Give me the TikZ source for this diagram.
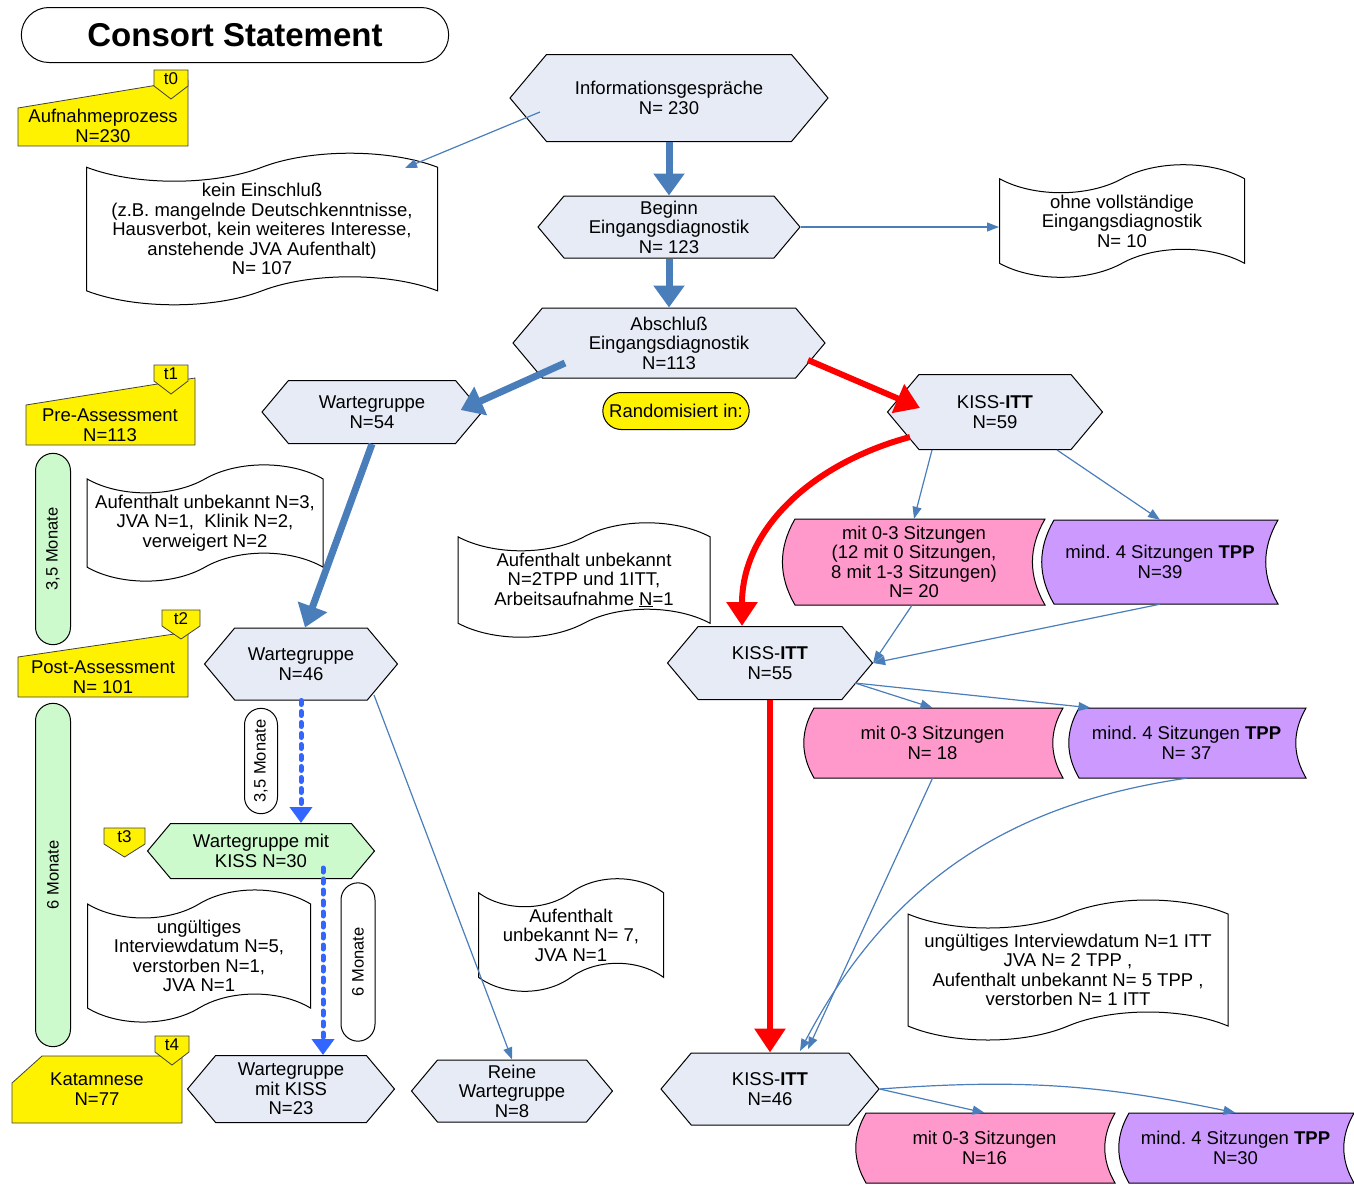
\documentclass[tikz,border=0pt]{standalone}
\usepackage{fontspec}
\setmainfont{Liberation Sans}
\usepackage{xcolor}
\usetikzlibrary{arrows.meta,calc,shapes.symbols,shapes.misc}
\frenchspacing

\definecolor{hexfill}{RGB}{230,235,246}
\definecolor{greenfill}{RGB}{204,250,204}
\definecolor{pinkfill}{RGB}{255,153,204}
\definecolor{lilafill}{RGB}{204,153,255}
\definecolor{arrowblue}{RGB}{74,126,187}
\definecolor{dotblue}{RGB}{51,102,255}

% Zeitpunkt-Marke: name, x, y, Breite, Text
\newcommand\zeitmarke[5]{%
  \draw[fill=yellow, draw=black!75, line width=0.8pt]
    (#2,#3) -- ++(#4,0) -- ++(0,16) -- ++(-#4/2,13) -- ++(-#4/2,-13) -- cycle;
  \node[font=\fontsize{17}{17}\selectfont] (#1) at (#2+#4/2,#3+9) {#5};
}
% Gespeicherte Daten: name, x1, y1, x2, y2, Farbe, Text
\newcommand\speicher[7]{%
  \filldraw[fill=#6, draw=black, line width=1pt]
    (#2+12,#3) -- (#4,#3) to[bend right=30] (#4,#5)
    -- (#2+12,#5) to[bend left=30] (#2+12,#3) -- cycle;
  \node[inner sep=0pt, minimum width={(#4-#2)*1pt}, minimum height={(#5-#3)*1pt}]
    (#1) at ({(#2+#4)/2},{(#3+#5)/2}) {#7};
}

\begin{document}
\begin{tikzpicture}[
    x = 1pt, y = -1pt,
    every node/.style = {font=\fontsize{18.5}{19.5}\selectfont, align=center},
    % Named styles
    hexa/.style      = {signal, signal to=west and east, signal pointer angle=100,
                        draw=black, fill=hexfill, line width=1pt, inner sep=1pt},
    doc/.style       = {tape, tape bend top=in and out, tape bend bottom=in and out,
                        tape bend height=28pt, draw=black, fill=white,
                        line width=1pt, inner sep=2pt},
    pill/.style      = {rounded rectangle, draw=black, line width=1pt, rotate=90,
                        minimum height=35pt, font=\fontsize{16.5}{17}\selectfont},
    gelb/.style      = {fill=yellow, draw=black!75, line width=0.8pt},
    thinarrow/.style = {-{Triangle[length=12pt,width=9pt]}, draw=arrowblue, line width=1.2pt},
    bigarrow/.style  = {-{Triangle[length=22pt,width=30pt]}, draw=arrowblue, line width=7pt},
    redarrow/.style  = {-{Triangle[length=24pt,width=30pt]}, draw=red, line width=6pt},
    dotarrow/.style  = {-{Triangle[length=16pt,width=22pt]}, draw=dotblue, line width=5pt,
                        line cap=round, dash pattern=on 4pt off 7pt},
]
\useasboundingbox (0,0) rectangle (1354,1184);

% ── Titel ─────────────────────────────────────────────────────────────────────
\node[rounded rectangle, draw=black, line width=1pt, minimum width=434pt,
      minimum height=55pt, font=\fontsize{33}{33}\selectfont\bfseries]
    (title) at (235,35) {Consort Statement};

% ── Zeitpunkte (links) ────────────────────────────────────────────────────────
\draw[gelb] (18,108) -- (188,80) -- (188,146) -- (18,146) -- cycle;
\zeitmarke{tnull}{154}{70}{34}{t0}
\node (aufnahme) at (103,126) {Aufnahmeprozess\\N=230};

\draw[gelb] (26,405) -- (195,378) -- (195,445) -- (26,445) -- cycle;
\zeitmarke{teins}{154}{365}{34}{t1}
\node (pre) at (110,425) {Pre-Assessment\\N=113};

\draw[gelb] (18,657) -- (188,632) -- (188,697) -- (18,697) -- cycle;
\zeitmarke{tzwei}{162}{610}{38}{t2}
\node (post) at (103,677) {Post-Assessment\\N= 101};

\zeitmarke{tdrei}{104}{828}{41}{t3}

\draw[gelb] (12,1083) -- (42,1056) -- (182,1056) -- (182,1123) -- (12,1123) -- cycle;
\zeitmarke{tvier}{155}{1036}{34}{t4}
\node (katamnese) at (97,1089) {Katamnese\\N=77};

% Zeitraeume
\node[pill, fill=greenfill, minimum width=198pt] (monA) at (53,549) {3,5 Monate};
\node[pill, fill=greenfill, minimum width=350pt] (monB) at (53,875) {6 Monate};
\node[pill, fill=white, minimum width=112pt, minimum height=33pt] (monC) at (261,761) {3,5 Monate};
\node[pill, fill=white, minimum width=165pt, minimum height=34pt] (monD) at (358,962) {6 Monate};

% ── Aufnahme ──────────────────────────────────────────────────────────────────
\node[hexa, minimum width=318pt, minimum height=87pt] (info) at (669,98)
    {Informationsgespräche\\N= 230};
\node[doc, minimum width=351pt, minimum height=150pt] (kein) at (262,229)
    {kein Einschluß\\(z.B. mangelnde Deutschkenntnisse,\\Hausverbot, kein weiteres Interesse,\\anstehende JVA Aufenthalt)\\N= 107};
\node[hexa, minimum width=262pt, minimum height=62pt] (beginn) at (669,227)
    {Beginn\\Eingangsdiagnostik\\N= 123};
\node[doc, minimum width=245pt, minimum height=104pt] (ohne) at (1122,221)
    {ohne vollständige\\Eingangsdiagnostik\\N= 10};
\node[hexa, minimum width=312pt, minimum height=70pt] (absch) at (669,343)
    {Abschluß\\Eingangsdiagnostik\\N=113};
\node[rounded rectangle, draw=black, fill=yellow, line width=1pt,
      minimum width=153pt, minimum height=37pt] (random) at (676,411) {Randomisiert in:};

% ── Wartegruppe ───────────────────────────────────────────────────────────────
\node[hexa, minimum width=220pt, minimum height=63pt] (warteA) at (372,412) {Wartegruppe\\N=54};
\node[doc, minimum width=236pt, minimum height=100pt] (verlustA) at (205,523)
    {Aufenthalt unbekannt N=3,\\JVA N=1,\ \ Klinik N=2,\\verweigert N=2};
\node[hexa, minimum width=193pt, minimum height=72pt] (warteB) at (301,664) {Wartegruppe\\N=46};
\node[hexa, fill=greenfill, minimum width=227pt, minimum height=55pt] (warteC) at (261,851)
    {Wartegruppe mit\\KISS N=30};
\node[doc, minimum width=223pt, minimum height=120pt] (verlustC) at (199,956)
    {ungültiges\\Interviewdatum N=5,\\verstorben N=1,\\JVA N=1};
\node[doc, minimum width=185pt, minimum height=86pt] (verlustD) at (571,935)
    {Aufenthalt\\unbekannt N= 7,\\JVA N=1};
\node[hexa, minimum width=207pt, minimum height=67pt] (warteD) at (291,1089)
    {Wartegruppe\\mit KISS\\N=23};
\node[hexa, minimum width=201pt, minimum height=62pt] (reine) at (512,1091)
    {Reine\\Wartegruppe\\N=8};

% ── KISS-ITT ──────────────────────────────────────────────────────────────────
\node[hexa, minimum width=215pt, minimum height=75pt] (kissA) at (995,412) {KISS-\textbf{ITT}\\N=59};
\speicher{pinkA}{783}{519}{1045}{605}{pinkfill}
    {mit 0-3 Sitzungen\\(12 mit 0 Sitzungen,\\8 mit 1-3 Sitzungen)\\N= 20}
\speicher{lilaA}{1042}{520}{1278}{604}{lilafill}
    {mind. 4 Sitzungen \textbf{TPP}\\N=39}
\node[doc, minimum width=252pt, minimum height=112pt] (verlustB) at (584,580)
    {Aufenthalt unbekannt\\N=2TPP und 1ITT,\\Arbeitsaufnahme \underline{N}=1};
\node[hexa, minimum width=205pt, minimum height=73pt] (kissB) at (770,663) {KISS-\textbf{ITT}\\N=55};
\speicher{pinkB}{802}{708}{1063}{778}{pinkfill}{mit 0-3 Sitzungen\\N= 18}
\speicher{lilaB}{1067}{708}{1306}{778}{lilafill}{mind. 4 Sitzungen \textbf{TPP}\\N= 37}
\node[doc, minimum width=320pt, minimum height=140pt] (verlustE) at (1068,970)
    {ungültiges Interviewdatum N=1 ITT\\JVA N= 2 TPP ,\\Aufenthalt unbekannt N= 5 TPP ,\\verstorben N= 1 ITT};
\node[hexa, minimum width=218pt, minimum height=72pt] (kissC) at (770,1089) {KISS-\textbf{ITT}\\N=46};
\speicher{pinkC}{854}{1113}{1115}{1183}{pinkfill}{mit 0-3 Sitzungen\\N=16}
\speicher{lilaC}{1117}{1113}{1354}{1183}{lilafill}{mind. 4 Sitzungen \textbf{TPP}\\N=30}

% ── Pfeile ────────────────────────────────────────────────────────────────────
\draw[thinarrow] ($(info)+(-129,14)$) -- ($(kein)+(143,-61)$);
\draw[bigarrow]  (info.south) -- (beginn.north);
\draw[thinarrow] (beginn.east) -- (beginn.east -| ohne.west);
\draw[bigarrow]  (beginn.south) -- (absch.north);
\draw[bigarrow]  ($(absch)+(-104,20)$) -- ($(warteA.east)+(-22,-2)$);
\draw[redarrow]  ($(absch)+(139,17)$) -- ($(kissA)+(-75,-4)$);

% Wartegruppe
\draw[bigarrow]  (warteA.south) -- ($(warteB.north)+(4,0)$);
\draw[dotarrow]  (warteB.south) -- (warteB.south |- warteC.north);
\coordinate (dotstart) at ($(warteC)+(62,17)$);
\draw[dotarrow]  (dotstart) -- (dotstart |- warteD.north);
\draw[thinarrow] ($(warteB)+(73,31)$) -- (reine.north);

% KISS-ITT
\draw[redarrow]  ($(kissA)+(-85,25)$) to[out=195, in=90] ($(kissB.north)+(-28,0)$);
\draw[thinarrow] ($(kissA.south)+(-63,0)$) -- (pinkA.north);
\draw[thinarrow] ($(kissA.south)+(62,0)$) -- (lilaA.north);
\draw[thinarrow] ($(pinkA.south)+(-2,0)$) -- (kissB.east);
\draw[thinarrow] (lilaA.south) -- (kissB.east);
\draw[thinarrow] ($(kissB)+(85,20)$) -- (pinkB.north);
\draw[thinarrow] ($(kissB)+(85,20)$) -- ($(lilaB.north)+(-96,0)$);
\draw[redarrow]  (kissB.south) -- (kissC.north);
\draw[thinarrow] (pinkB.south) -- ($(kissC)+(38,-40)$);
\draw[thinarrow] (lilaB.south) to[bend right=27] ($(kissC)+(30,-38)$);
\draw[thinarrow] (kissC.east) -- (pinkC.north);
\draw[thinarrow] (kissC.east) to[bend left=8] (lilaC.north);

\end{tikzpicture}
\end{document}
